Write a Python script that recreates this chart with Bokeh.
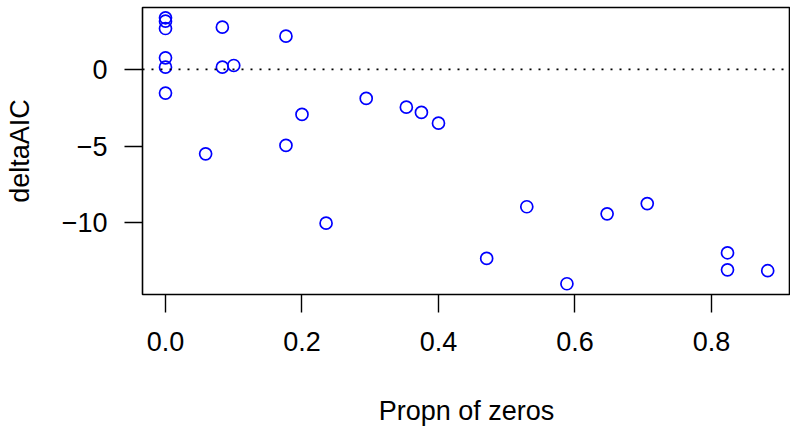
from bokeh.plotting import figure
from bokeh.models import Range1d, FixedTicker, Span
from bokeh.embed import file_html
from bokeh.resources import INLINE

prop_zeros = [0.0, 0.0, 0.0, 0.0, 0.0, 0.0,
              0.0833, 0.0833, 0.1, 0.0588, 0.1765, 0.1765, 0.2, 0.2353, 0.2941,
              0.3529, 0.375, 0.4, 0.4706, 0.5294, 0.5882, 0.6471, 0.7059,
              0.8235, 0.8235, 0.8824]
delta_aic = [3.37, 3.15, 2.67, 0.76, 0.15, -1.54,
             2.76, 0.15, 0.26, -5.50, 2.17, -4.95, -2.93, -10.02, -1.89,
             -2.46, -2.80, -3.50, -12.32, -8.95, -13.97, -9.41, -8.74,
             -11.95, -13.06, -13.12]
x_ticks = [0.0, 0.2, 0.4, 0.6, 0.8]
y_ticks = [-10, -5, 0]
x_title = "Propn of zeros"
y_title = "deltaAIC"

FONT = "Liberation Sans"
FS = "27px"

p = figure(width=790, height=430, output_backend="svg", toolbar_location=None,
           x_range=Range1d(-0.0337, 0.9158), y_range=Range1d(-14.67, 4.04),
           min_border_left=142, min_border_right=0, min_border_top=7,
           min_border_bottom=136)
p.title.visible = False
p.background_fill_color = "white"
p.border_fill_color = "white"
p.grid.visible = False
p.outline_line_color = "black"
p.outline_line_width = 1.6

for ax, ticks in ((p.xaxis, x_ticks), (p.yaxis, y_ticks)):
    ax.ticker = FixedTicker(ticks=ticks)
    ax.minor_tick_line_color = None
    ax.major_tick_in = 0
    ax.major_tick_out = 18
    ax.major_tick_line_color = "black"
    ax.major_tick_line_width = 1.4
    ax.axis_line_color = None
    ax.major_label_text_font = FONT
    ax.major_label_text_font_size = FS
    ax.major_label_text_color = "black"
    ax.axis_label_text_font = FONT
    ax.axis_label_text_font_size = FS
    ax.axis_label_text_font_style = "normal"
    ax.axis_label_text_color = "black"

p.xaxis.axis_label = x_title
p.yaxis.axis_label = y_title
p.xaxis.major_label_standoff = 19
p.yaxis.major_label_standoff = 17
p.yaxis.major_label_orientation = "horizontal"
p.xaxis.axis_label_standoff = 42
p.yaxis.axis_label_standoff = 24
p.xaxis.major_label_overrides = {t: f"{t:.1f}" for t in x_ticks}
p.yaxis.major_label_overrides = {t: str(t).replace("-", "\u2212") for t in y_ticks}

p.add_layout(Span(location=0, dimension="width", line_color="black",
                  line_width=1.8, line_dash="2 7"))

p.scatter(prop_zeros, delta_aic, size=12, fill_color=None,
          line_color="#0000FF", line_width=1.7)

open("out.html", "w").write(file_html(p, INLINE))
